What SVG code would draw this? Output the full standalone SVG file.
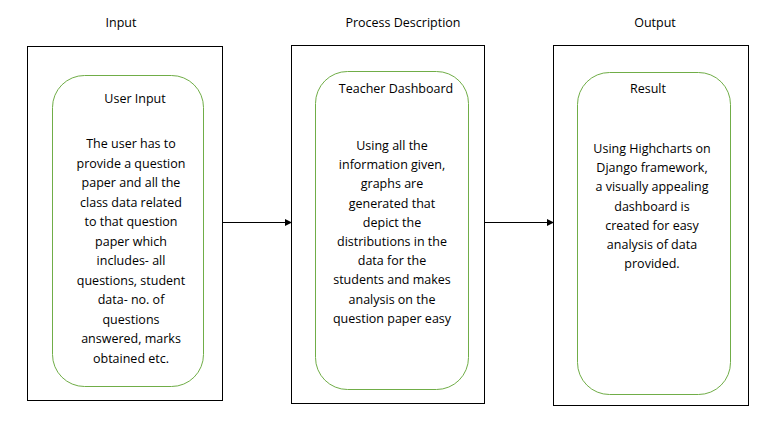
<svg xmlns="http://www.w3.org/2000/svg" width="771" height="441" viewBox="0 0 771 441">
<defs>
<style>
text{font-family:"Open Sans","Noto Sans",sans-serif;font-size:12.5px;fill:#000;text-anchor:middle}
.outer{fill:#fff;stroke:#000;stroke-width:1}
.inner{fill:#fff;stroke:#70AD47;stroke-width:1}
.conn{stroke:#000;stroke-width:1;fill:none}
</style>
<marker id="arr" markerWidth="8" markerHeight="8" refX="7" refY="4" orient="auto" markerUnits="userSpaceOnUse">
<path d="M0,0.5 L7,4 L0,7.5 Z" fill="#000"/>
</marker>
</defs>
<rect width="771" height="441" fill="#fff"/>
<text x="121" y="27">Input</text>
<text x="403" y="27">Process Description</text>
<text x="655" y="27">Output</text>
<g id="input">
<rect class="outer" x="27.5" y="46.5" width="195" height="354"/>
<rect class="inner" x="52.5" y="75.5" width="151" height="311" rx="32" ry="32"/>
<text x="135" y="103">User Input</text>
<text x="131" y="148">The user has to</text>
<text x="131" y="167.5">provide a question</text>
<text x="131" y="187">paper and all the</text>
<text x="131" y="206.5">class data related</text>
<text x="131" y="226">to that question</text>
<text x="131" y="245.5">paper which</text>
<text x="131" y="265">includes- all</text>
<text x="131" y="284.5">questions, student</text>
<text x="131" y="304">data- no. of</text>
<text x="131" y="323.5">questions</text>
<text x="131" y="343">answered, marks</text>
<text x="131" y="362.5">obtained etc.</text>
</g>
<g id="process">
<rect class="outer" x="291.5" y="45.5" width="193" height="358"/>
<rect class="inner" x="315.5" y="71.5" width="153" height="318" rx="32" ry="32"/>
<text x="396" y="93">Teacher Dashboard</text>
<text x="392" y="150">Using all the</text>
<text x="392" y="169.2">information given,</text>
<text x="392" y="188.4">graphs are</text>
<text x="392" y="207.6">generated that</text>
<text x="392" y="226.8">depict the</text>
<text x="392" y="246">distributions in the</text>
<text x="392" y="265.2">data for the</text>
<text x="392" y="284.4">students and makes</text>
<text x="392" y="303.6">analysis on the</text>
<text x="392" y="322.8">question paper easy</text>
</g>
<g id="output">
<rect class="outer" x="553.5" y="45.5" width="195" height="360"/>
<rect class="inner" x="577.5" y="72.5" width="153" height="322" rx="32" ry="32"/>
<text x="648" y="93">Result</text>
<text x="652" y="153">Using Highcharts on</text>
<text x="652" y="172.2">Django framework,</text>
<text x="652" y="191.4">a visually appealing</text>
<text x="652" y="210.6">dashboard is</text>
<text x="652" y="229.8">created for easy</text>
<text x="652" y="249">analysis of data</text>
<text x="652" y="268.2">provided.</text>
</g>
<g id="connectors">
<line class="conn" x1="222.5" y1="222.5" x2="292" y2="222.5" marker-end="url(#arr)"/>
<line class="conn" x1="484.5" y1="222.5" x2="554" y2="222.5" marker-end="url(#arr)"/>
</g>
</svg>
